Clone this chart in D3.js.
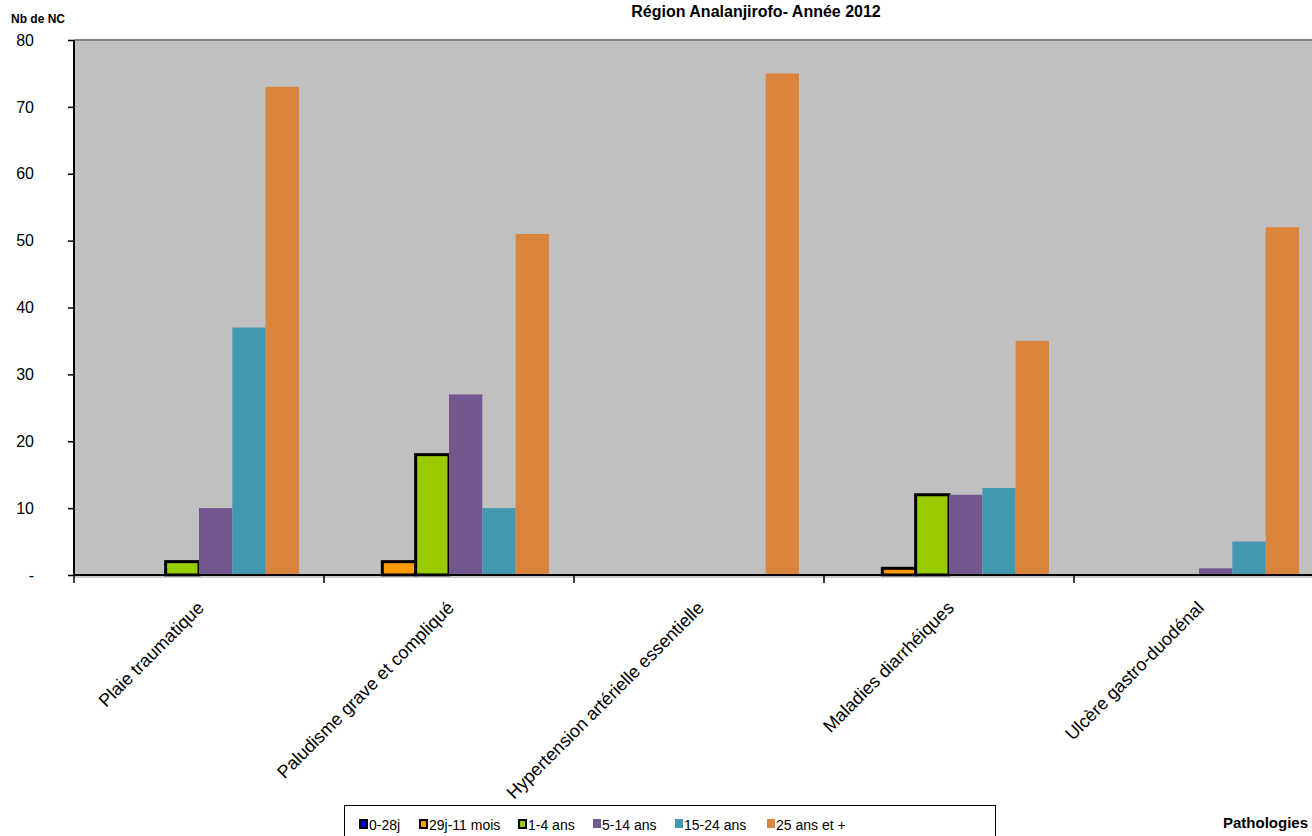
<!DOCTYPE html>
<html>
<head>
<meta charset="utf-8">
<script src="https://cdn.jsdelivr.net/npm/d3@7"></script>
<style>
  html, body { margin: 0; padding: 0; background: #fff; }
  svg { display: block; font-family: Arial, "Liberation Sans", sans-serif; }
</style>
</head>
<body>
<svg id="chart" width="1312" height="836"></svg>
<script>
const categories = ["Plaie traumatique", "Paludisme grave et compliqué", "Hypertension artérielle essentielle", "Maladies diarrhéiques", "Ulcère gastro-duodénal"];
const seriesNames = ["0-28j", "29j-11 mois", "1-4 ans", "5-14 ans", "15-24 ans", "25 ans et +"];
const s0_28j   = [0, 0, 0, 0, 0];
const s29j_11m = [0, 2, 0, 1, 0];
const s1_4     = [2, 18, 0, 12, 0];
const s5_14    = [10, 27, 0, 12, 1];
const s15_24   = [37, 10, 0, 13, 5];
const s25plus  = [73, 51, 75, 35, 52];
const seriesValues = [s0_28j, s29j_11m, s1_4, s5_14, s15_24, s25plus];
const yTicks = [0, 10, 20, 30, 40, 50, 60, 70, 80];
const yTickLabels = ["-", "10", "20", "30", "40", "50", "60", "70", "80"];
const titleText = "Région Analanjirofo- Année 2012";
const yAxisTitle = "Nb de NC";
const xAxisTitle = "Pathologies";

const colors = ["#0000FF", "#FF9900", "#99CC00", "#72588F", "#4198AF", "#DB843D"];
const outlined = [true, true, true, false, false, false];

(function () {
const svg = d3.select("#chart");
const pLeft = 74, pTop = 40, pBottom = 575, catW = 250;
const pRight = pLeft + catW * categories.length;

const x0 = d3.scaleBand().domain(categories).range([pLeft, pRight]).padding(0);
const x1 = d3.scaleBand().domain(seriesNames).range([25, catW - 25]).padding(0);
const y = d3.scaleLinear().domain([0, 80]).range([pBottom, pTop]);

// plot background
svg.append("rect").attr("x", pLeft).attr("y", pTop).attr("width", pRight - pLeft).attr("height", pBottom - pTop)
  .attr("fill", "#C0C0C0");
svg.append("line").attr("x1", pLeft).attr("x2", pRight).attr("y1", pTop).attr("y2", pTop)
  .attr("stroke", "#808080").attr("stroke-width", 2);

// bars
const groups = svg.append("g");
categories.forEach((cat, ci) => {
  seriesNames.forEach((s, si) => {
    const v = seriesValues[si][ci];
    if (!v) return;
    const r = groups.append("rect")
      .attr("x", x0(cat) + x1(s))
      .attr("y", y(v))
      .attr("width", x1.bandwidth())
      .attr("height", y(0) - y(v))
      .attr("fill", colors[si]);
    if (outlined[si]) r.attr("stroke", "#000").attr("stroke-width", 3);
  });
});

// y axis
const yAxis = d3.axisLeft(y).tickValues(yTicks).tickSize(6).tickPadding(0)
  .tickFormat((d, i) => yTickLabels[i]);
const gy = svg.append("g").attr("transform", `translate(${pLeft},0)`).call(yAxis);
gy.select(".domain").attr("stroke", "#000").attr("stroke-width", 2).attr("d", `M0,${pTop}V${pBottom}`);
gy.selectAll(".tick line").attr("stroke", "#000").attr("stroke-width", 1.5);
gy.selectAll(".tick text").attr("x", -40).attr("text-anchor", "end")
  .attr("font-size", 16).attr("fill", "#000").attr("font-family", "Arial, 'Liberation Sans', sans-serif");

// x axis
const gx = svg.append("g").attr("transform", `translate(0,${pBottom})`);
gx.append("line").attr("x1", pLeft).attr("x2", pRight).attr("y1", 2).attr("y2", 2)
  .attr("stroke", "#9a9a9a").attr("stroke-width", 1);
gx.append("line").attr("x1", pLeft).attr("x2", pRight).attr("y1", 0).attr("y2", 0)
  .attr("stroke", "#000").attr("stroke-width", 2);
const boundaries = categories.map(c => x0(c)).concat([pRight]);
gx.selectAll("line.tick").data(boundaries).join("line").attr("class", "tick")
  .attr("x1", d => d).attr("x2", d => d).attr("y1", 0).attr("y2", 8)
  .attr("stroke", "#000").attr("stroke-width", 1.5);
gx.selectAll("text.lbl").data(categories).join("text").attr("class", "lbl")
  .attr("transform", d => `translate(${x0(d) + x0.bandwidth() / 2 + 6},${34}) rotate(-45)`)
  .attr("text-anchor", "end").attr("font-size", 18).attr("fill", "#000")
  .text(d => d);

// titles
svg.append("text").attr("x", 756).attr("y", 17).attr("text-anchor", "middle")
  .attr("font-size", 16).attr("font-weight", "bold").text(titleText);
svg.append("text").attr("x", 11).attr("y", 23).attr("font-size", 12).attr("font-weight", "bold").text(yAxisTitle);
svg.append("text").attr("x", 1308).attr("y", 828).attr("text-anchor", "end")
  .attr("font-size", 15).attr("font-weight", "bold").text(xAxisTitle);

// legend
const lg = svg.append("g");
lg.append("rect").attr("x", 344.5).attr("y", 805.5).attr("width", 651).attr("height", 40)
  .attr("fill", "#fff").attr("stroke", "#000").attr("stroke-width", 1);
const legX = [359, 419, 518, 593, 675, 767];
seriesNames.forEach((s, i) => {
  if (outlined[i]) {
    lg.append("rect").attr("x", legX[i] + 1).attr("y", 820).attr("width", 7).attr("height", 8)
      .attr("fill", colors[i]).attr("stroke", "#000").attr("stroke-width", 2);
  } else {
    lg.append("rect").attr("x", legX[i]).attr("y", 819).attr("width", 8).attr("height", 9)
      .attr("fill", colors[i]);
  }
  lg.append("text").attr("x", legX[i] + (outlined[i] ? 10 : 9)).attr("y", 830)
    .attr("font-size", 14).attr("fill", "#000").text(s);
});
})();
</script>
</body>
</html>
